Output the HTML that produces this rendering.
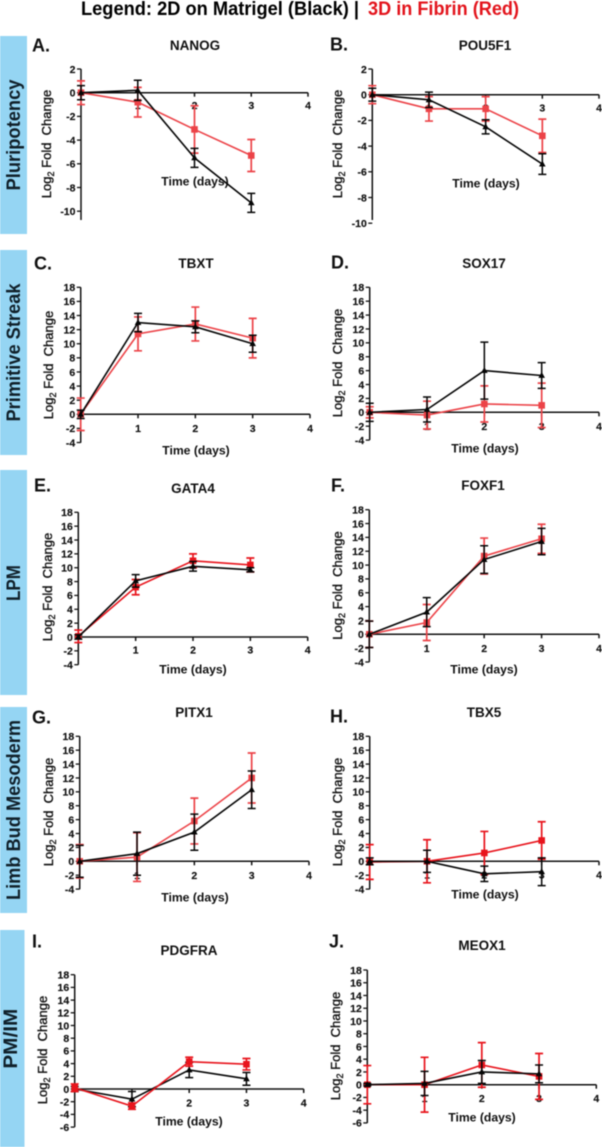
<!DOCTYPE html>
<html lang="en">
<head>
<meta charset="utf-8">
<title>Log2 fold change by lineage marker</title>
<style>
html,body{margin:0;padding:0;background:#fff;}
body{width:602px;height:1147px;overflow:hidden;}
svg{display:block;font-family:"Liberation Sans",Arial,sans-serif;filter:blur(0.45px);}
</style>
</head>
<body>
<svg id="figure" width="602" height="1147" viewBox="0 0 602 1147" xmlns="http://www.w3.org/2000/svg">
  <rect x="0" y="0" width="602" height="1147" fill="#fff"/>
  <text x="81" y="15" font-size="19" font-weight="700" fill="#000" textLength="278" lengthAdjust="spacingAndGlyphs">Legend: 2D on Matrigel (Black) |</text>
  <text x="368" y="15" font-size="19" font-weight="700" fill="#e3141c" textLength="151" lengthAdjust="spacingAndGlyphs">3D in Fibrin (Red)</text>

  <g>
    <rect x="0" y="36" width="27" height="198" fill="#95d5f3"/>
    <rect x="0" y="250" width="27" height="205" fill="#95d5f3"/>
    <rect x="0" y="470" width="27" height="225" fill="#95d5f3"/>
    <rect x="0" y="707" width="27" height="206" fill="#95d5f3"/>
    <rect x="0" y="930" width="24.5" height="217" fill="#95d5f3"/>
    <text transform="translate(20,135) rotate(-90)" text-anchor="middle" font-size="19" font-weight="700" fill="#10202a" textLength="111" lengthAdjust="spacingAndGlyphs">Pluripotency</text>
    <text transform="translate(20,352.5) rotate(-90)" text-anchor="middle" font-size="19" font-weight="700" fill="#10202a" textLength="138" lengthAdjust="spacingAndGlyphs">Primitive Streak</text>
    <text transform="translate(20,583) rotate(-90)" text-anchor="middle" font-size="19" font-weight="700" fill="#10202a" textLength="36" lengthAdjust="spacingAndGlyphs">LPM</text>
    <text transform="translate(20,810) rotate(-90)" text-anchor="middle" font-size="19" font-weight="700" fill="#10202a" textLength="180" lengthAdjust="spacingAndGlyphs">Limb Bud Mesoderm</text>
    <text transform="translate(17,1038.7) rotate(-90)" text-anchor="middle" font-size="19" font-weight="700" fill="#10202a" textLength="60" lengthAdjust="spacingAndGlyphs">PM/IM</text>
  </g>
  <g id="panels"></g>
</svg>

<script>
// ---------- chart data ----------
const days = [0, 1, 2, 3];
const xTickLabels = [1, 2, 3, 4];
const yTicksNanog = [2, 0, -2, -4, -6, -8, -10];
const yTicksPou = [2, 0, -2, -4, -6, -8, -10];
const yTicksStandard = [18, 16, 14, 12, 10, 8, 6, 4, 2, 0, -2, -4];
const yTicksExtended = [18, 16, 14, 12, 10, 8, 6, 4, 2, 0, -2, -4, -6];
const xAxisTitle = "Time (days)";

const nanog2D = [0, 0.2, -5.5, -9.3];
const nanog2DErr = [0.6, 0.85, 0.8, 0.8];
const nanog3D = [0, -0.8, -3.1, -5.3];
const nanog3DErr = [1, 1.25, 2, 1.35];

const pou2D = [0, -0.4, -2.5, -5.4];
const pou2DErr = [0.5, 0.6, 0.55, 0.8];
const pou3D = [0, -1.1, -1.1, -3.2];
const pou3DErr = [0.7, 0.95, 0.95, 1.3];

const tbxt2D = [0, 13, 12.4, 10];
const tbxt2DErr = [0.6, 1.3, 0.85, 1.2];
const tbxt3D = [0, 11.4, 12.8, 10.8];
const tbxt3DErr = [2.3, 2.4, 2.4, 2.8];

const sox2D = [0, 0.4, 6, 5.3];
const sox2DErr = [1.3, 1.8, 4.1, 1.85];
const sox3D = [0, -0.4, 1.2, 1];
const sox3DErr = [0.8, 2, 2.6, 3.2];

const gata2D = [0, 8.1, 10.2, 9.7];
const gata2DErr = [0.3, 0.9, 0.7, 0.3];
const gata3D = [0.1, 7.2, 11, 10.4];
const gata3DErr = [0.9, 1.1, 1, 1];

const foxf2D = [0, 3.2, 10.8, 13.4];
const foxf2DErr = [1.9, 2.1, 2, 1.9];
const foxf3D = [0, 1.7, 11.3, 13.8];
const foxf3DErr = [1.9, 2.6, 2.6, 2.1];

const pitx2D = [0, 1.1, 4.2, 10.3];
const pitx2DErr = [2.3, 3.1, 2.6, 2.7];
const pitx3D = [0, 0.6, 5.8, 12];
const pitx3DErr = [2.4, 3.5, 3.3, 3.6];

const tbx2D = [0, 0, -1.8, -1.5];
const tbx2DErr = [0.5, 1.6, 1.1, 2];
const tbx3D = [-0.1, 0, 1.2, 3];
const tbx3DErr = [2.5, 3.1, 3.1, 2.7];

const pdgfra2D = [0, -1.6, 3, 1.6];
const pdgfra2DErr = [0.4, 1.2, 1.2, 1];
const pdgfra3D = [0.2, -2.7, 4.3, 3.9];
const pdgfra3DErr = [0.6, 0.5, 0.7, 0.9];

const meox2D = [0, 0.2, 2, 1.7];
const meox2DErr = [0.2, 1.9, 1.8, 1.4];
const meox3D = [0, 0, 3.1, 1.3];
const meox3DErr = [3, 4.3, 3.5, 3.6];

// ---------- panel definitions (data references) ----------
const panelData = [
  {letter:"A.", gene:"NANOG", ticks:yTicksNanog, black:nanog2D, blackErr:nanog2DErr, red:nanog3D, redErr:nanog3DErr},
  {letter:"B.", gene:"POU5F1", ticks:yTicksPou, black:pou2D, blackErr:pou2DErr, red:pou3D, redErr:pou3DErr},
  {letter:"C.", gene:"TBXT", ticks:yTicksStandard, black:tbxt2D, blackErr:tbxt2DErr, red:tbxt3D, redErr:tbxt3DErr},
  {letter:"D.", gene:"SOX17", ticks:yTicksStandard, black:sox2D, blackErr:sox2DErr, red:sox3D, redErr:sox3DErr},
  {letter:"E.", gene:"GATA4", ticks:yTicksStandard, black:gata2D, blackErr:gata2DErr, red:gata3D, redErr:gata3DErr},
  {letter:"F.", gene:"FOXF1", ticks:yTicksStandard, black:foxf2D, blackErr:foxf2DErr, red:foxf3D, redErr:foxf3DErr},
  {letter:"G.", gene:"PITX1", ticks:yTicksStandard, black:pitx2D, blackErr:pitx2DErr, red:pitx3D, redErr:pitx3DErr},
  {letter:"H.", gene:"TBX5", ticks:yTicksStandard, black:tbx2D, blackErr:tbx2DErr, red:tbx3D, redErr:tbx3DErr},
  {letter:"I.", gene:"PDGFRA", ticks:yTicksExtended, black:pdgfra2D, blackErr:pdgfra2DErr, red:pdgfra3D, redErr:pdgfra3DErr},
  {letter:"J.", gene:"MEOX1", ticks:yTicksExtended, black:meox2D, blackErr:meox2DErr, red:meox3D, redErr:meox3DErr}
];

// ---------- layout (separate from data) ----------
const panelLayout = [
  {ax:81, x4:308, top:69, zero:92.7, bottom:220, lx:32, ly:45, tx:195, ty:45, xtx:195, xty:181, ytx:47, yty:144, tickDy:12.6, redColor:"#ec4348", redOnTop:false},
  {ax:372.3, x4:599, top:69, zero:94.7, bottom:220, lx:330, ly:44, tx:485, ty:45, xtx:486, xty:183, ytx:338, yty:144, tickDy:13, redColor:"#ec4348", redOnTop:false},
  {ax:80.7, x4:310, top:287.3, zero:414.3, bottom:442.7, lx:34, ly:263, tx:196, ty:263, xtx:196, xty:450, ytx:49, yty:365, tickDy:14, redColor:"#ec4348", redOnTop:false},
  {ax:369.7, x4:599, top:287.3, zero:412.3, bottom:440, lx:331, ly:262, tx:484, ty:263, xtx:485, xty:448, ytx:338, yty:363, tickDy:14, redColor:"#ec4348", redOnTop:false},
  {ax:78.3, x4:307.7, top:512.3, zero:637, bottom:664.7, lx:34, ly:485, tx:193, ty:488, xtx:193, xty:669, ytx:48, yty:587, tickDy:13, redColor:"#e8141c", redOnTop:false},
  {ax:369.3, x4:599, top:509.7, zero:634.3, bottom:662, lx:331, ly:485, tx:483, ty:485, xtx:484, xty:669, ytx:338, yty:585.5, tickDy:14, redColor:"#ec4348", redOnTop:false},
  {ax:79.7, x4:309, top:736.3, zero:861.3, bottom:889.3, lx:32, ly:717, tx:194, ty:712, xtx:195, xty:897, ytx:49, yty:812, tickDy:14, redColor:"#ec4348", redOnTop:false},
  {ax:369.7, x4:599, top:736.3, zero:861.3, bottom:889.3, lx:330, ly:716, tx:484, ty:712, xtx:485, xty:894, ytx:338, yty:812, tickDy:13.5, redColor:"#e8141c", redOnTop:false},
  {ax:74.7, x4:303.7, top:974.7, zero:1089, bottom:1127, lx:32, ly:941, tx:189, ty:950, xtx:189, xty:1121, ytx:43, yty:1050, tickDy:14, redColor:"#e8141c", redOnTop:true},
  {ax:367.3, x4:596.3, top:970, zero:1084.7, bottom:1123, lx:329, ly:941, tx:482, ty:945, xtx:482, xty:1117, ytx:336, yty:1046, tickDy:13.5, redColor:"#e8141c", redOnTop:false}
];

const SVG_NS = "http://www.w3.org/2000/svg";
const root = document.getElementById("panels");

function make(parent, tag, attrs, text) {
  const el = document.createElementNS(SVG_NS, tag);
  for (const k in attrs) el.setAttribute(k, attrs[k]);
  if (text !== undefined) el.textContent = text;
  parent.appendChild(el);
  return el;
}

function drawSeries(g, seriesName, values, errors, color, errWidth, lineWidth, shape, xScale, yScale) {
  const sg = make(g, "g", {});
  
  

  values.forEach(function (v, i) {
    const x = xScale(days[i]);
    const hi = yScale(v + errors[i]);
    const lo = yScale(v - errors[i]);
    const bar = make(sg, "path", {
      d: "M" + (x - 4) + " " + hi + "H" + (x + 4) + "M" + x + " " + hi + "V" + lo + "M" + (x - 4) + " " + lo + "H" + (x + 4),
      fill: "none", stroke: color, "stroke-width": errWidth
    });
    
    
  });

  const pts = values.map(function (v, i) { return xScale(days[i]) + "," + yScale(v); }).join(" ");
  const line = make(sg, "polyline", {points: pts, fill: "none", stroke: color, "stroke-width": lineWidth});
  
  

  values.forEach(function (v, i) {
    const x = xScale(days[i]);
    const y = yScale(v);
    let m;
    if (shape === "square") {
      m = make(sg, "rect", {x: x - 3.3, y: y - 3.3, width: 6.6, height: 6.6, fill: color});
    } else {
      m = make(sg, "polygon", {points: x + "," + (y - 3.6) + " " + (x + 3.3) + "," + (y + 2.4) + " " + (x - 3.3) + "," + (y + 2.4), fill: color});
    }
    
    
  });
}

panelData.forEach(function (p, idx) {
  const L = panelLayout[idx];
  const topTick = p.ticks[0];
  const xScale = function (d) { return L.ax + d * (L.x4 - L.ax) / xTickLabels[xTickLabels.length - 1]; };
  const yScale = function (v) { return L.zero - v * (L.zero - L.top) / topTick; };
  const slug = p.gene.toLowerCase();

  const g = make(root, "g", {});
  
  

  const letter = make(g, "text", {x: L.lx, y: L.ly + 6.5, "font-size": 18, "font-weight": 700, fill: "#111"}, p.letter);
  
  

  const title = make(g, "text", {x: L.tx, y: L.ty + 5, "text-anchor": "middle", "font-size": 13.5, "font-weight": 700, fill: "#111"}, p.gene);
  
  

  // tick labels sit below the marks, as in the source figure
  xTickLabels.forEach(function (t) {
    const lab = make(g, "text", {x: xScale(t), y: yScale(0) + L.tickDy + 3.7, "text-anchor": "middle", "font-size": 10.5, "font-weight": 700, fill: "#111", stroke: "#111", "stroke-width": 0.15}, t);
    
    
    const tick = make(g, "line", {x1: xScale(t), x2: xScale(t), y1: yScale(0), y2: yScale(0) + 4, stroke: "#111", "stroke-width": 1.5});
    
    
  });

  p.ticks.forEach(function (t) {
    const lab = make(g, "text", {x: L.ax - 5.5, y: yScale(t) + 3.8, "text-anchor": "end", "font-size": 10.5, "font-weight": 700, fill: "#111", stroke: "#111", "stroke-width": 0.15}, t);
    
    
    const tick = make(g, "line", {x1: L.ax - 4, x2: L.ax, y1: yScale(t), y2: yScale(t), stroke: "#111", "stroke-width": 1.3});
    
    
  });

  const xAxis = make(g, "line", {x1: L.ax, x2: L.x4, y1: yScale(0), y2: yScale(0), stroke: "#111", "stroke-width": 1.5});
  
  

  const yAxis = make(g, "line", {x1: L.ax, x2: L.ax, y1: L.top, y2: L.bottom, stroke: "#111", "stroke-width": 1.5});
  
  

  const xTitle = make(g, "text", {x: L.xtx, y: L.xty + 4.3, "text-anchor": "middle", "font-size": 12.2, "font-weight": 700, fill: "#111"}, xAxisTitle);
  
  

  const yTitle = make(g, "text", {transform: "translate(" + (L.ytx + 4) + "," + L.yty + ") rotate(-90)", "text-anchor": "middle", "font-size": 13, "font-weight": 400, stroke: "#111", "stroke-width": 0.35, fill: "#111"});
  
  
  make(yTitle, "tspan", {}, "Log");
  make(yTitle, "tspan", {dy: 3, "font-size": 9}, "2");
  make(yTitle, "tspan", {dy: -3}, " Fold\u00a0\u00a0Change");

  const drawRed = function () {
    drawSeries(g, slug + '-3d-fibrin', p.red, p.redErr, L.redColor, 1.7, 1.6, "square", xScale, yScale);
  };
  const drawBlack = function () {
    drawSeries(g, slug + '-2d-matrigel', p.black, p.blackErr, "#050505", 1.5, 1.6, "triangle", xScale, yScale);
  };
  if (L.redOnTop) {
    drawBlack();
    drawRed();
  } else {
    drawRed();
    drawBlack();
  }
});
</script>
</body>
</html>
